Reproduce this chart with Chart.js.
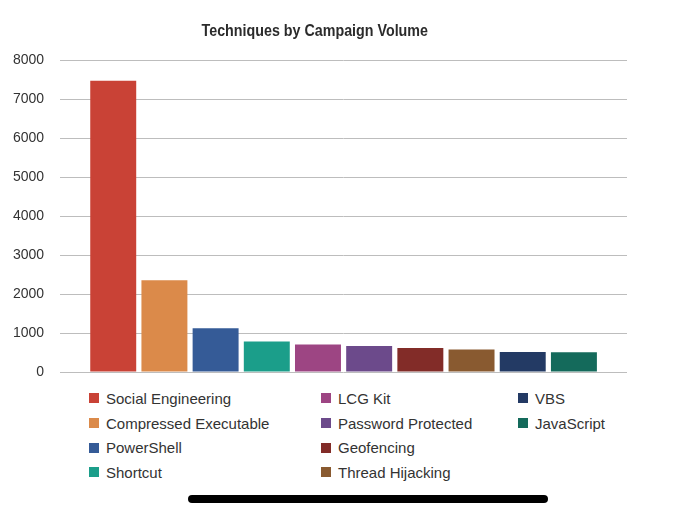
<!DOCTYPE html>
<html>
<head>
<meta charset="utf-8">
<script src="https://cdn.jsdelivr.net/npm/chart.js@4/dist/chart.umd.min.js"></script>
<style>
  html, body { margin: 0; padding: 0; background: #ffffff; }
  body { width: 680px; height: 515px; position: relative; overflow: hidden; font-family: "Liberation Sans", Arial, sans-serif; }
  #wrap { position: absolute; left: 0; top: 0; width: 630px; height: 385px; }
  #title {
    position: absolute; left: 0; top: 21px; width: 629px; text-align: center;
    font-family: "Liberation Sans", Arial, sans-serif; font-weight: bold; font-size: 17px; line-height: 20px;
    color: #2b2b2b; white-space: nowrap;
  }
  #title span { display: inline-block; transform: scaleX(0.84); transform-origin: center; }
  #legend {
    position: absolute; left: 89px; top: 386px;
    display: grid;
    grid-template-columns: 232px 197px auto;
    grid-template-rows: repeat(4, 24.7px);
    grid-auto-flow: column;
    font-size: 15px; color: #333333;
  }
  .item { display: flex; align-items: center; white-space: nowrap; }
  .sw { width: 10px; height: 10px; margin-right: 7px; flex: none; }
  #homebar { position: absolute; left: 188px; top: 495px; width: 360px; height: 8px; border-radius: 4px; background: #000; }
</style>
</head>
<body>
<div id="wrap"><canvas id="c" width="630" height="385"></canvas></div>
<div id="title"><span id="titleText"></span></div>
<div id="legend"></div>
<div id="homebar"></div>
<script>
const categories = ["Social Engineering", "Compressed Executable", "PowerShell", "Shortcut", "LCG Kit", "Password Protected", "Geofencing", "Thread Hijacking", "VBS", "JavaScript"];
const values = [7470, 2350, 1120, 785, 705, 665, 615, 580, 515, 505];
const colors = ["#c94236", "#db8a4a", "#355b97", "#1b9e8a", "#9d4583", "#6c4a8b", "#822c28", "#895a30", "#233a64", "#146a5b"];
const yTicks = [0, 1000, 2000, 3000, 4000, 5000, 6000, 7000, 8000];
const titleText = "Techniques by Campaign Volume";

document.getElementById("titleText").textContent = titleText;

const datasets = categories.map((name, i) => ({
  label: name,
  data: [values[i]],
  backgroundColor: colors[i],
  borderWidth: 0,
  categoryPercentage: 0.903,
  barPercentage: 0.898
}));

new Chart(document.getElementById("c"), {
  type: "bar",
  data: { labels: [""], datasets },
  options: {
    responsive: false,
    animation: false,
    devicePixelRatio: 1,
    layout: { padding: { left: 11, right: 3, top: 60, bottom: 13 } },
    plugins: {
      legend: { display: false },
      tooltip: { enabled: false },
      title: { display: false }
    },
    scales: {
      x: { display: false },
      y: {
        min: 0, max: 8000,
        afterBuildTicks: (scale) => { scale.ticks = yTicks.map(v => ({ value: v })); },
        ticks: {
          color: "#333333",
          padding: 2,
          callback: (v) => String(v),
          font: { family: "'Liberation Sans', Arial, sans-serif", size: 14 }
        },
        grid: { color: "#bdbdbd", lineWidth: 1, drawTicks: true, tickLength: 14, tickColor: "rgba(0,0,0,0)" },
        border: { display: false }
      }
    }
  }
});

const legend = document.getElementById("legend");
categories.forEach((name, i) => {
  const item = document.createElement("div");
  item.className = "item";
  const sw = document.createElement("span");
  sw.className = "sw";
  sw.style.background = colors[i];
  const tx = document.createElement("span");
  tx.textContent = name;
  item.appendChild(sw);
  item.appendChild(tx);
  legend.appendChild(item);
});
</script>
</body>
</html>
